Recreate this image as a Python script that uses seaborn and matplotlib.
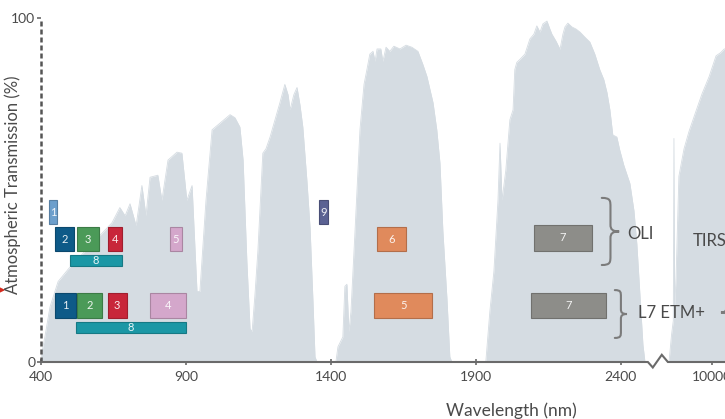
import numpy as np
import pandas as pd
import matplotlib
matplotlib.use("Agg")
import matplotlib.pyplot as plt
from matplotlib.path import Path
from matplotlib.patches import PathPatch
import seaborn as sns

# ---------------- data ----------------
# Atmospheric transmission, reflective region (wavelength nm, transmission %)
refl_nm = [400, 414, 431, 459, 497, 569, 645, 672, 690, 707, 728, 748, 762, 776, 803,
           817, 838, 869, 886, 903, 921, 938, 948, 969, 990, 1052, 1069, 1086, 1097,
           1110, 1121, 1128, 1138, 1148, 1165, 1176, 1190, 1224, 1241, 1252, 1259,
           1272, 1283, 1293, 1303, 1317, 1328, 1338, 1345, 1352, 1417, 1424, 1441,
           1448, 1455, 1462, 1469, 1483, 1493, 1500, 1514, 1524, 1534, 1545, 1552,
           1559, 1572, 1579, 1590, 1603, 1617, 1638, 1659, 1679, 1700, 1717, 1731,
           1752, 1765, 1776, 1786, 1800, 1810, 1817, 1934, 1948, 1962, 1976, 1983,
           1990, 2003, 2017, 2028, 2034, 2041, 2052, 2069, 2086, 2100, 2110, 2121,
           2131, 2145, 2155, 2162, 2176, 2190, 2200, 2207, 2217, 2231, 2245, 2259,
           2276, 2293, 2310, 2327, 2341, 2352, 2362, 2372, 2386, 2396, 2410, 2431,
           2445, 2455, 2465, 2476, 2483]
refl_T = [1.5, 7.6, 16, 23.4, 27.3, 33.7, 40.5, 44.9, 42.5, 46, 39.6, 51.3, 42.5, 53.7, 54.3,
          47, 58.7, 61, 60.7, 47, 51.3, 20.5, 20.5, 47, 67.5, 71.9, 71, 68.3, 58.7,
          29.3, 9.7, 8.8, 19.7, 32.3, 60.7, 62, 65.4, 75.4, 80.7, 77.7, 73.3,
          77.7, 79.8, 74.8, 68.3, 52.8, 39, 17.6, 1.5, 0, 0, 4.4, 7.3,
          22, 22.6, 8.8, 14.7, 38.1, 55.7, 67.5, 80.7, 85, 89.5, 90.3, 87.4,
          91, 91, 87.4, 91.5, 90.3, 91.8, 91, 92.1, 91.5, 90.3, 86.5, 83,
          75.4, 67.5, 57.8, 38.1, 18.5, 1.5, 0, 0, 14.7, 26.4, 47, 63.6,
          47, 55.7, 70.4, 73.3, 85, 87.1, 88, 89.5, 93.9, 95.3, 97.7, 95.9,
          98.3, 99.1, 96.8, 95.3, 93.3, 90.9, 95.3, 97.4, 98.5, 97.4, 96.8, 95.9,
          94.4, 93, 89.5, 85, 82.1, 78.3, 73.3, 66, 65.4, 61.6, 57.2, 51.9,
          44, 34.3, 20.5, 5, 0]

# Thermal region (nm, %)
therm_nm = [8000, 8120, 8200, 8230, 8260, 8330, 8460, 8700, 8930, 9260, 9540, 9870,
            10190, 10420, 10570, 11000]
therm_T = [0, 8, 12, 65, 15, 25, 54, 62, 67, 73, 78, 83, 89, 90, 91, 91]

# OLI bands
oli_band = ["1", "2", "3", "4", "5", "6", "7", "8", "9"]
oli_lo = [428, 450, 525, 630, 845, 1560, 2100, 500, 1360]
oli_hi = [455, 515, 600, 680, 885, 1660, 2300, 680, 1390]
oli_bottom = [40.1, 32.3, 32.3, 32.3, 32.3, 32.3, 32.3, 28.0, 40.1]
oli_top = [47.1, 39.2, 39.2, 39.2, 39.2, 39.2, 39.9, 31.0, 47.1]

# Landsat 7 ETM+ bands
etm_band = ["1", "2", "3", "4", "5", "7", "8"]
etm_lo = [450, 525, 630, 775, 1550, 2090, 520]
etm_hi = [520, 610, 695, 900, 1750, 2350, 900]
etm_bottom = [12.8, 12.8, 12.8, 12.8, 12.8, 12.8, 8.4]
etm_top = [20.1, 20.1, 20.1, 20.1, 20.1, 20.1, 11.6]

x_ticks_nm = [400, 900, 1400, 1900, 2400, 10000]
x_tick_labels = ["400", "900", "1400", "1900", "2400", "10000"]

oli_colors = {
    "1": "#6d9fcc", "2": "#0e5a88", "3": "#4b9a58", "4": "#c8263a",
    "5": "#d4a7cb", "6": "#e08a5c", "7": "#8d8d89", "8": "#1b97a5", "9": "#5b6293",
}
etm_colors = {
    "1": "#0e5a88", "2": "#4b9a58", "3": "#c8263a", "4": "#d4a7cb",
    "5": "#e08a5c", "7": "#8d8d89", "8": "#1b97a5",
}


# Broken wavelength axis: reflective part linear in nm, thermal part compressed
def to_pos(nm):
    nm = np.asarray(nm, dtype=float)
    return np.where(nm < 5000, nm, 2714 + (nm - 10000) / 13.5)


# ---------------- style ----------------
sns.set_theme(style="white")
plt.rcParams["font.family"] = ["Lato", "DejaVu Sans"]
text_col = "#4a4a4a"
fill_col = "#d5dce2"

fig = plt.figure(figsize=(7.25, 4.19), dpi=100)
ax = fig.add_axes([41 / 725, 57 / 419, 684 / 725, 344 / 419])

# ---------------- transmission ----------------
trans = pd.concat([
    pd.DataFrame({"pos": to_pos(refl_nm), "T": refl_T, "region": "reflective"}),
    pd.DataFrame({"pos": to_pos(therm_nm), "T": therm_T, "region": "thermal"}),
])
for region, sub in trans.groupby("region"):
    ax.fill_between(sub["pos"], 0, sub["T"], color=fill_col, lw=0, zorder=1)
sns.lineplot(data=trans, x="pos", y="T", units="region", estimator=None, sort=False,
             color=fill_col, lw=0.6, ax=ax, zorder=1)


# ---------------- band boxes ----------------
def draw_bands(names, lo, hi, bottom, top, colors):
    left = to_pos(lo)
    width = to_pos(hi) - left
    height = np.array(top) - np.array(bottom)
    cols = [colors[n] for n in names]
    edges = [tuple(np.array(matplotlib.colors.to_rgb(c)) * 0.8) for c in cols]
    ax.bar(left, height, width=width, bottom=bottom, align="edge",
           color=cols, edgecolor=edges, linewidth=0.8, zorder=3)
    for n, l, w, b, h in zip(names, left, width, bottom, height):
        ax.text(l + w / 2, b + h / 2, n, ha="center", va="center",
                fontsize=8, color="white", alpha=0.9, zorder=4)


draw_bands(oli_band, oli_lo, oli_hi, oli_bottom, oli_top, oli_colors)
draw_bands(etm_band, etm_lo, etm_hi, etm_bottom, etm_top, etm_colors)


# ---------------- braces and sensor names ----------------
def brace(x, ybot, ytop, w, flip=False, color="#7b7b7b"):
    h = ytop - ybot
    ym = (ytop + ybot) / 2
    s = -1 if flip else 1
    xm = x + s * 0.5 * w
    xt = x + s * w
    verts = [
        (x, ytop), (xm, ytop), (xm, ytop - 0.04 * h), (xm, ytop - 0.14 * h),
        (xm, ym + 0.1 * h),
        (xm, ym + 0.03 * h), (x + s * 0.62 * w, ym), (xt, ym),
        (x + s * 0.62 * w, ym), (xm, ym - 0.03 * h), (xm, ym - 0.1 * h),
        (xm, ybot + 0.14 * h),
        (xm, ybot + 0.04 * h), (xm, ybot), (x, ybot),
    ]
    codes = [Path.MOVETO, Path.CURVE4, Path.CURVE4, Path.CURVE4,
             Path.LINETO,
             Path.CURVE4, Path.CURVE4, Path.CURVE4,
             Path.CURVE4, Path.CURVE4, Path.CURVE4,
             Path.LINETO,
             Path.CURVE4, Path.CURVE4, Path.CURVE4]
    ax.add_patch(PathPatch(Path(verts, codes), fill=False, edgecolor=color,
                           lw=1.5, capstyle="round", zorder=4, clip_on=False))


brace(2334, 28.2, 47.7, 60)
brace(2379, 7.0, 20.9, 42)
brace(2790, 7.8, 21.0, 45, flip=True)

ax.text(2421, 37.3, "OLI", fontsize=12, color=text_col, va="center", ha="left", zorder=5)
ax.text(2648, 35.3, "TIRS", fontsize=12, color=text_col, va="center", ha="left",
        zorder=5, clip_on=True)
ax.text(2459, 14.3, "L7 ETM+", fontsize=12, color=text_col, va="center", ha="left", zorder=5)

# ---------------- axes ----------------
ax.set_xlim(400, 2759)
ax.set_ylim(0, 100)
for side in ("top", "right", "bottom", "left"):
    ax.spines[side].set_visible(False)

# dashed vertical axis
ax.plot([400, 400], [0, 100], color="#555555", lw=1.8, dashes=(2.0, 1.2),
        clip_on=False, zorder=6, solid_capstyle="butt", dash_capstyle="butt")

# x axis line with a break before the thermal region
axis_x = [400, 2493, 2510, 2541, 2562, 2759]
axis_y = [0, 0, -1.6, 2.1, 0, 0]
ax.plot(axis_x, axis_y, color="#6a6a6a", lw=1.5, clip_on=False, zorder=6,
        solid_joinstyle="miter")

ax.set_xticks(to_pos(x_ticks_nm))
ax.set_xticklabels(x_tick_labels)
ax.set_yticks([0, 100])
ax.set_yticklabels(["0", "100"])
ax.tick_params(axis="x", direction="inout", length=5, width=1.2, color="#6a6a6a",
               labelsize=10, labelcolor=text_col, pad=4, bottom=True)
ax.tick_params(axis="y", direction="out", length=3, width=1.2, color="#6a6a6a",
               labelsize=10, labelcolor=text_col, pad=1, left=True)
ax.grid(False)

ax.set_xlabel("Wavelength (nm)", fontsize=12.5, color=text_col)
ax.xaxis.set_label_coords(0.687, -0.117)
ax.set_ylabel("Atmospheric Transmission (%)", fontsize=12, color=text_col)
ax.yaxis.set_label_coords(-0.029, 0.515)

# small red pointer at the left margin
ax.annotate("", xy=(8, 129), xytext=(-12, 129), xycoords="figure pixels",
            textcoords="figure pixels",
            arrowprops=dict(arrowstyle="-|>", color="#d42a1e", lw=1.5,
                            mutation_scale=10))

fig.savefig("out.png", dpi=100, facecolor="white")
